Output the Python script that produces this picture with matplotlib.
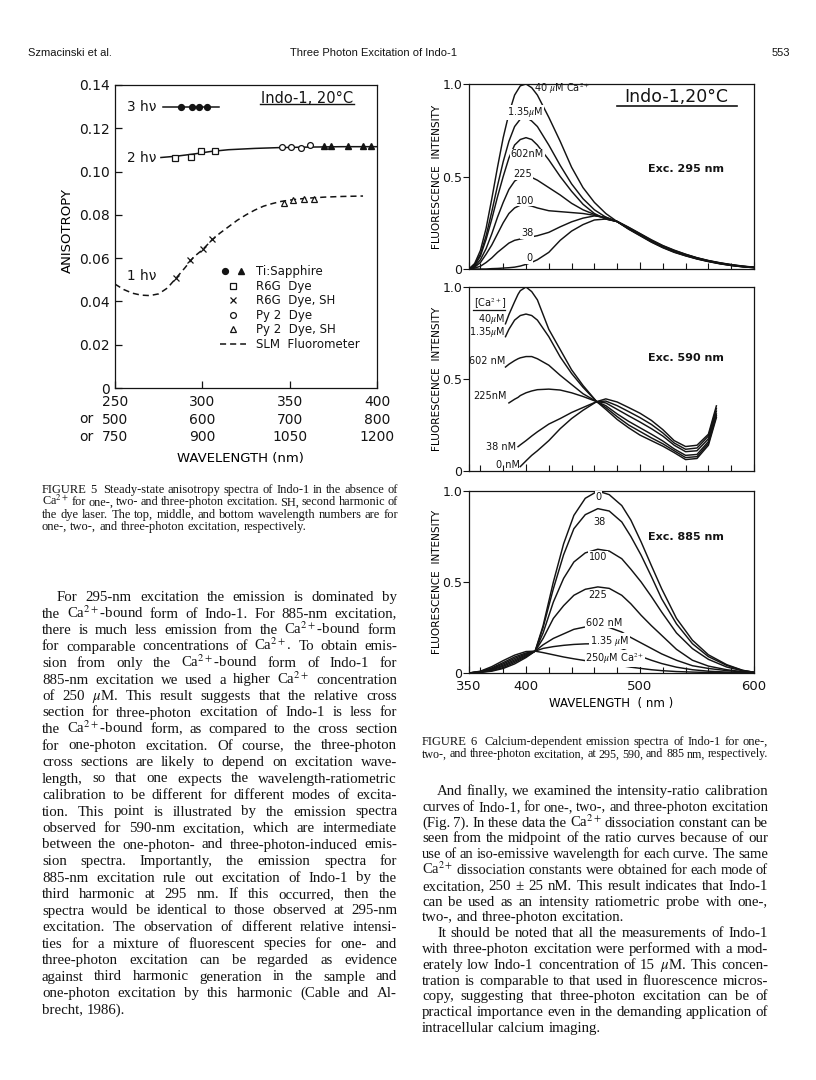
"""Page 553 of Szmacinski et al.: Fig. 5 (anisotropy) and Fig. 6 (emission spectra) with text."""
import matplotlib

matplotlib.use("Agg")
import matplotlib.pyplot as plt
import numpy as np
from matplotlib.legend_handler import HandlerTuple

W, H = 816, 1080
INK = "#141414"
SANS = "DejaVu Sans"
SERIF = "Liberation Serif"

plt.rcParams["font.family"] = [SANS]
plt.rcParams["mathtext.fontset"] = "stix"
plt.rcParams["axes.linewidth"] = 0.9
plt.rcParams["text.color"] = INK
plt.rcParams["axes.edgecolor"] = INK
plt.rcParams["xtick.color"] = INK
plt.rcParams["ytick.color"] = INK

# ---------------- Figure 5 data (x on the one-photon wavelength scale) ----------------
wl_1p_ticks = [250, 300, 350, 400]
wl_2p_ticks = [500, 600, 700, 800]
wl_3p_ticks = [750, 900, 1050, 1200]
aniso_ticks = [0, 0.02, 0.04, 0.06, 0.08, 0.10, 0.12, 0.14]
aniso_labels = ["0", "0.02", "0.04", "0.06", "0.08", "0.10", "0.12", "0.14"]

line3_x = [277.6, 309.6]
line3_y = [0.130, 0.130]
ti_circ_x = [287.7, 293.8, 298.2, 302.4]
ti_circ_y = [0.130, 0.130, 0.130, 0.130]

fit2_x = [276.3, 285, 295, 305, 315, 330, 345, 360, 380, 400]
fit2_y = [0.1065, 0.1071, 0.1081, 0.1093, 0.1101, 0.1107, 0.1111, 0.1113, 0.1115, 0.1115]
r6g_x = [284.1, 293.4, 299.5, 307.5]
r6g_y = [0.1065, 0.1068, 0.1096, 0.1096]
py2_x = [345.8, 350.6, 356.7, 361.8]
py2_y = [0.1112, 0.1112, 0.1110, 0.1122]
ti_tri_x = [369.4, 373.8, 383.3, 391.9, 396.3]
ti_tri_y = [0.1118, 0.1116, 0.1118, 0.1118, 0.1118]

slm_x = [250, 255, 260, 265, 270, 275, 280, 285, 290, 295, 300, 305, 310, 315, 320,
         325, 330, 335, 340, 345, 350, 355, 360, 370, 380, 392]
slm_y = [0.0480, 0.0455, 0.0438, 0.0429, 0.0427, 0.0435, 0.0462, 0.0508, 0.0555, 0.0605,
         0.0638, 0.0680, 0.0715, 0.0745, 0.0775, 0.0800, 0.0822, 0.0840, 0.0852, 0.0862,
         0.0868, 0.0873, 0.0877, 0.0882, 0.0885, 0.0887]
r6g_sh_x = [284.7, 293.2, 300.5, 305.8]
r6g_sh_y = [0.0506, 0.0590, 0.0640, 0.0688]
py2_sh_x = [346.8, 351.9, 358.0, 363.7]
py2_sh_y = [0.0856, 0.0867, 0.0871, 0.0874]

# ---------------- Figure 6 data ----------------
wl_a = [350, 355, 360, 365, 370, 375, 380, 385, 390, 395, 400, 405, 410, 420, 430, 440,
        450, 460, 470, 480, 490, 500, 510, 520, 530, 540, 550, 560, 570, 580, 590, 600]
exc295 = {
    "40uM": [0.0, 0.03, 0.10, 0.22, 0.38, 0.55, 0.71, 0.84, 0.94, 0.99, 1.0, 0.98, 0.94, 0.82,
             0.69, 0.55, 0.44, 0.36, 0.30, 0.256, 0.215, 0.18, 0.145, 0.115, 0.09, 0.071,
             0.054, 0.04, 0.028, 0.019, 0.012, 0.007],
    "1.35uM": [0.0, 0.025, 0.08, 0.18, 0.31, 0.45, 0.58, 0.69, 0.77, 0.81, 0.82, 0.80, 0.77,
               0.67, 0.56, 0.46, 0.38, 0.32, 0.28, 0.256, 0.217, 0.182, 0.147, 0.117, 0.092,
               0.072, 0.055, 0.041, 0.029, 0.019, 0.012, 0.007],
    "602nM": [0.0, 0.02, 0.07, 0.16, 0.27, 0.39, 0.50, 0.60, 0.67, 0.70, 0.71, 0.70, 0.67,
              0.59, 0.50, 0.42, 0.35, 0.30, 0.27, 0.256, 0.218, 0.184, 0.149, 0.119, 0.094,
              0.074, 0.056, 0.042, 0.03, 0.02, 0.013, 0.008],
    "225": [0.0, 0.015, 0.05, 0.11, 0.19, 0.28, 0.36, 0.43, 0.475, 0.495, 0.50, 0.495, 0.48,
            0.44, 0.40, 0.355, 0.32, 0.295, 0.272, 0.256, 0.22, 0.186, 0.151, 0.121, 0.096,
            0.076, 0.058, 0.043, 0.031, 0.021, 0.014, 0.009],
    "100": [0.0, 0.01, 0.035, 0.08, 0.13, 0.19, 0.25, 0.30, 0.33, 0.345, 0.346, 0.34, 0.33,
            0.315, 0.31, 0.305, 0.30, 0.29, 0.275, 0.256, 0.222, 0.188, 0.153, 0.123, 0.098,
            0.077, 0.059, 0.044, 0.032, 0.022, 0.014, 0.009],
    "38": [0.0, 0.005, 0.015, 0.035, 0.06, 0.09, 0.115, 0.14, 0.155, 0.162, 0.168, 0.174,
           0.18, 0.198, 0.228, 0.255, 0.275, 0.287, 0.28, 0.256, 0.224, 0.19, 0.155, 0.125,
           0.10, 0.079, 0.06, 0.045, 0.033, 0.023, 0.015, 0.009],
    "0": [0.0, 0.0, 0.0, 0.0, 0.002, 0.003, 0.005, 0.007, 0.01, 0.016, 0.025, 0.036, 0.05,
          0.09, 0.155, 0.205, 0.24, 0.265, 0.27, 0.258, 0.226, 0.192, 0.158, 0.127, 0.102,
          0.08, 0.061, 0.046, 0.034, 0.024, 0.016, 0.01],
}

nan = np.nan
wl_b = [382, 385, 390, 393, 395, 400, 405, 410, 420, 430, 440, 450, 462,
        470, 480, 490, 500, 510, 520, 530, 540, 550, 560, 567]
exc590 = {
    "40uM": [0.80, 0.85, 0.92, 0.96, 0.98, 1.0, 0.975, 0.93, 0.77, 0.66, 0.55, 0.465, 0.377,
             0.335, 0.28, 0.235, 0.195, 0.165, 0.135, 0.10, 0.062, 0.068, 0.14, 0.29],
    "1.35uM": [0.73, 0.77, 0.82, 0.835, 0.845, 0.853, 0.845, 0.82, 0.73, 0.62, 0.53, 0.455,
               0.377, 0.345, 0.295, 0.25, 0.215, 0.18, 0.148, 0.11, 0.073, 0.078, 0.15, 0.30],
    "602nM": [0.565, 0.58, 0.60, 0.61, 0.615, 0.622, 0.622, 0.61, 0.575, 0.52, 0.47, 0.42,
              0.377, 0.355, 0.31, 0.27, 0.235, 0.20, 0.163, 0.12, 0.085, 0.09, 0.16, 0.31],
    "225nM": [nan, 0.37, 0.39, 0.40, 0.41, 0.425, 0.435, 0.442, 0.445, 0.44, 0.425, 0.405,
              0.377, 0.37, 0.335, 0.30, 0.266, 0.23, 0.19, 0.14, 0.105, 0.11, 0.175, 0.325],
    "38nM": [nan, nan, nan, 0.132, 0.142, 0.165, 0.19, 0.213, 0.255, 0.285, 0.318, 0.345,
             0.377, 0.38, 0.355, 0.323, 0.29, 0.253, 0.207, 0.152, 0.118, 0.125, 0.19, 0.34],
    "0nM": [nan, nan, nan, nan, 0.024, 0.055, 0.085, 0.11, 0.165, 0.23, 0.285, 0.33, 0.377,
            0.392, 0.375, 0.345, 0.314, 0.275, 0.225, 0.165, 0.133, 0.14, 0.20, 0.354],
}

wl_c = [350, 360, 370, 380, 390, 400, 408, 415, 424, 433, 442, 452, 463, 473, 484, 492,
        501, 510, 519, 532, 546, 560, 576, 590, 600]
exc885 = {
    "0": [0.0, 0.003, 0.01, 0.025, 0.05, 0.085, 0.12, 0.26, 0.50, 0.71, 0.866, 0.96, 1.0,
          0.98, 0.92, 0.84, 0.72, 0.59, 0.463, 0.30, 0.18, 0.10, 0.046, 0.015, 0.004],
    "38": [0.0, 0.004, 0.013, 0.03, 0.058, 0.09, 0.12, 0.25, 0.463, 0.65, 0.793, 0.87, 0.903,
           0.89, 0.83, 0.75, 0.647, 0.53, 0.408, 0.27, 0.161, 0.09, 0.042, 0.014, 0.004],
    "100": [0.0, 0.005, 0.017, 0.037, 0.065, 0.095, 0.12, 0.22, 0.39, 0.52, 0.61, 0.66, 0.68,
            0.67, 0.628, 0.57, 0.50, 0.42, 0.335, 0.22, 0.134, 0.075, 0.033, 0.012, 0.004],
    "225": [0.0, 0.006, 0.02, 0.043, 0.072, 0.10, 0.12, 0.19, 0.30, 0.37, 0.427, 0.46, 0.473,
            0.465, 0.427, 0.38, 0.317, 0.26, 0.207, 0.13, 0.07, 0.038, 0.018, 0.007, 0.003],
    "602nM": [0.0, 0.007, 0.024, 0.05, 0.08, 0.105, 0.12, 0.155, 0.19, 0.215, 0.24, 0.253,
              0.258, 0.25, 0.225, 0.195, 0.165, 0.135, 0.105, 0.07, 0.04, 0.025, 0.013,
              0.006, 0.003],
    "1.35uM": [0.0, 0.008, 0.028, 0.057, 0.088, 0.11, 0.12, 0.135, 0.145, 0.152, 0.157,
               0.16, 0.161, 0.152, 0.134, 0.112, 0.09, 0.07, 0.052, 0.032, 0.018, 0.01,
               0.005, 0.003, 0.002],
    "250uM": [0.0, 0.01, 0.035, 0.068, 0.098, 0.118, 0.12, 0.112, 0.10, 0.088, 0.078, 0.068,
              0.06, 0.05, 0.04, 0.032, 0.025, 0.018, 0.013, 0.008, 0.005, 0.003, 0.002,
              0.001, 0.0],
}
spec_xticks = [350, 400, 500, 600]

# ---------------- page text ----------------
header_left = "Szmacinski et al."
header_mid = "Three Photon Excitation of Indo-1"
header_page = "553"

caption5 = [[
    "FIGURE 5  Steady-state anisotropy spectra of Indo-1 in the absence of",
    "Ca$^{2+}$ for one-, two- and three-photon excitation. SH, second harmonic of",
    "the dye laser. The top, middle, and bottom wavelength numbers are for",
    "one-, two-, and three-photon excitation, respectively.",
]]
caption6 = [[
    "FIGURE 6  Calcium-dependent emission spectra of Indo-1 for one-,",
    "two-, and three-photon excitation, at 295, 590, and 885 nm, respectively.",
]]
left_text = [[
    "For 295-nm excitation the emission is dominated by",
    "the Ca$^{2+}$-bound form of Indo-1. For 885-nm excitation,",
    "there is much less emission from the Ca$^{2+}$-bound form",
    "for comparable concentrations of Ca$^{2+}$. To obtain emis-",
    "sion from only the Ca$^{2+}$-bound form of Indo-1 for",
    "885-nm excitation we used a higher Ca$^{2+}$ concentration",
    "of 250 $\\mu$M. This result suggests that the relative cross",
    "section for three-photon excitation of Indo-1 is less for",
    "the Ca$^{2+}$-bound form, as compared to the cross section",
    "for one-photon excitation. Of course, the three-photon",
    "cross sections are likely to depend on excitation wave-",
    "length, so that one expects the wavelength-ratiometric",
    "calibration to be different for different modes of excita-",
    "tion. This point is illustrated by the emission spectra",
    "observed for 590-nm excitation, which are intermediate",
    "between the one-photon- and three-photon-induced emis-",
    "sion spectra. Importantly, the emission spectra for",
    "885-nm excitation rule out excitation of Indo-1 by the",
    "third harmonic at 295 nm. If this occurred, then the",
    "spectra would be identical to those observed at 295-nm",
    "excitation. The observation of different relative intensi-",
    "ties for a mixture of fluorescent species for one- and",
    "three-photon excitation can be regarded as evidence",
    "against third harmonic generation in the sample and",
    "one-photon excitation by this harmonic (Cable and Al-",
    "brecht, 1986).",
]]
right_text = [[
    "And finally, we examined the intensity-ratio calibration",
    "curves of Indo-1, for one-, two-, and three-photon excitation",
    "(Fig. 7). In these data the Ca$^{2+}$ dissociation constant can be",
    "seen from the midpoint of the ratio curves because of our",
    "use of an iso-emissive wavelength for each curve. The same",
    "Ca$^{2+}$ dissociation constants were obtained for each mode of",
    "excitation, 250 \u00b1 25 nM. This result indicates that Indo-1",
    "can be used as an intensity ratiometric probe with one-,",
    "two-, and three-photon excitation.",
], [
    "It should be noted that all the measurements of Indo-1",
    "with three-photon excitation were performed with a mod-",
    "erately low Indo-1 concentration of 15 $\\mu$M. This concen-",
    "tration is comparable to that used in fluorescence micros-",
    "copy, suggesting that three-photon excitation can be of",
    "practical importance even in the demanding application of",
    "intracellular calcium imaging.",
]]

fig = plt.figure(figsize=(W / 100, H / 100), dpi=100)
fig.patch.set_facecolor("white")
renderer = fig.canvas.get_renderer()


def px_axes(left, top, right, bottom):
    return fig.add_axes([left / W, 1 - bottom / H, (right - left) / W, (bottom - top) / H])


def set_column(paragraphs, x0, x1, y0, dy, size, indent):
    """Justified text block; y are baselines in pixels from the top.
    A line that would not fit at `size` is set a little smaller."""
    y = y0
    for para in paragraphs:
        for i, line in enumerate(para):
            words = line.split(" ")
            start = x0 + (indent if i == 0 else 0)
            room = x1 - start
            s = size
            for _ in range(3):
                texts = [fig.text(0, 1 - y / H, w, fontsize=s, family=SERIF, va="baseline",
                                  ha="left", color=INK) for w in words]
                widths = [t.get_window_extent(renderer).width if w else 0.0
                          for t, w in zip(texts, words)]
                min_gap = s * 100 / 72 * 0.2
                natural = sum(widths) + (len(words) - 1) * min_gap
                if natural <= room:
                    break
                for t in texts:
                    t.remove()
                s = s * room / natural * 0.997
            normal = s * 100 / 72 * 0.25
            last = i == len(para) - 1
            if len(words) == 1 or (last and sum(widths) + (len(words) - 1) * normal < 0.93 * room):
                gap = normal
            else:
                gap = (room - sum(widths)) / (len(words) - 1)
            x = start
            for t, w in zip(texts, widths):
                t.set_x(x / W)
                x += w + gap
            y += dy


# ---------------- header ----------------
fig.text(28 / W, 1 - 56 / H, header_left, fontsize=8, family="Liberation Sans", va="baseline")
fig.text(374 / W, 1 - 56 / H, header_mid, fontsize=8, family="Liberation Sans", va="baseline", ha="center")
fig.text(790 / W, 1 - 56 / H, header_page, fontsize=8, family="Liberation Sans", va="baseline", ha="right")

# ---------------- Figure 5 ----------------
ax = px_axes(115, 85, 377, 388)
ax.plot(line3_x, line3_y, color=INK, lw=1.1)
h_ti_c, = ax.plot(ti_circ_x, ti_circ_y, "o", ms=4.2, color=INK)
ax.plot(fit2_x, fit2_y, color=INK, lw=1.1)
h_r6g, = ax.plot(r6g_x, r6g_y, "s", ms=4.2, mfc="white", mec=INK, mew=0.9)
h_py2, = ax.plot(py2_x, py2_y, "o", ms=4.2, mfc="white", mec=INK, mew=0.9)
h_ti_t, = ax.plot(ti_tri_x, ti_tri_y, "^", ms=4.6, color=INK)
h_slm, = ax.plot(slm_x, slm_y, color=INK, lw=1.1, dashes=(4, 2.6))
h_sh, = ax.plot(r6g_sh_x, r6g_sh_y, "x", ms=3.8, mew=0.9, color=INK)
h_pysh, = ax.plot(py2_sh_x, py2_sh_y, "^", ms=4.6, mfc="white", mec=INK, mew=0.9)

ax.set_xlim(250, 400)
ax.set_ylim(0, 0.14)
ax.set_yticks(aniso_ticks)
ax.set_yticklabels(aniso_labels)
ax.set_xticks(wl_1p_ticks)
ax.set_xticklabels([f"{a}\n{b}\n{c}" for a, b, c in zip(wl_1p_ticks, wl_2p_ticks, wl_3p_ticks)],
                   linespacing=1.33)
ax.tick_params(axis="both", direction="in", length=5, width=0.9, labelsize=10)
ax.tick_params(axis="y", pad=4)
ax.tick_params(axis="x", pad=5)
ax.set_ylabel("ANISOTROPY", fontsize=9.5)
ax.yaxis.set_label_coords(-0.158, 0.52)
ax.set_xlabel("WAVELENGTH (nm)", fontsize=9.5)
ax.xaxis.set_label_coords(0.48, -0.212)
for yy in (419, 437):
    fig.text(86 / W, 1 - yy / H, "or", fontsize=10, va="center", ha="center")

for lab, yv in (("3 h\u03bd", 0.130), ("2 h\u03bd", 0.1065), ("1 h\u03bd", 0.0516)):
    ax.text(273.5, yv, lab, fontsize=9.8, ha="right", va="center")

ax.text(359.7, 0.1338, "Indo-1, 20\u00b0C", fontsize=10.5, ha="center", va="center")
ax.plot([0.555, 0.913], [0.937, 0.937], transform=ax.transAxes, color=INK, lw=1.0)

leg = ax.legend(
    [(h_ti_c, h_ti_t), h_r6g, h_sh, h_py2, h_pysh, h_slm],
    ["Ti:Sapphire", "R6G  Dye", "R6G  Dye, SH", "Py 2  Dye", "Py 2  Dye, SH", "SLM  Fluorometer"],
    handler_map={tuple: HandlerTuple(ndivide=None, pad=0.6)},
    loc="upper left", bbox_to_anchor=(0.40, 0.405), frameon=False, fontsize=8.5,
    handlelength=2.2, handletextpad=0.9, labelspacing=0.13, borderpad=0, borderaxespad=0,
)

# ---------------- Figure 6 ----------------
panels = [
    (84, 269, wl_a, exc295, "Exc. 295 nm", 0.54),
    (287, 471, wl_b, exc590, "Exc. 590 nm", 0.613),
    (491, 673, wl_c, exc885, "Exc. 885 nm", 0.747),
]
spec_axes = []
for top, bottom, wl, curves, exc, exc_y in panels:
    a = px_axes(469, top, 754, bottom)
    for name, vals in curves.items():
        a.plot(wl, vals, color=INK, lw=1.05)
    a.set_xlim(350, 600)
    a.set_ylim(0, 1.0)
    a.set_xticks(spec_xticks)
    a.set_xticks(np.arange(360, 600, 20), minor=True)
    a.set_yticks([0, 0.5, 1.0])
    a.set_yticklabels(["0", "0.5", "1.0"])
    a.tick_params(axis="x", which="major", direction="in", length=5, width=0.8, labelsize=9.5, pad=5)
    a.tick_params(axis="x", which="minor", direction="in", length=4, width=0.8)
    a.tick_params(axis="y", direction="out", length=4, width=0.8, labelsize=9, pad=1)
    a.set_ylabel("FLUORESCENCE  INTENSITY", fontsize=7.6)
    a.yaxis.set_label_coords(-0.094, 0.5)
    a.text(540, exc_y, exc, fontsize=8, fontweight="bold", ha="center", va="center")
    spec_axes.append(a)

ax1, ax2, ax3 = spec_axes
ax1.tick_params(axis="x", labelbottom=False)
ax2.tick_params(axis="x", labelbottom=False)
ax3.set_xticklabels([str(v) for v in spec_xticks])
ax3.set_xlabel("WAVELENGTH  ( nm )", fontsize=8.5, labelpad=3)

lab_kw = dict(fontsize=7, ha="center", va="center",
              bbox=dict(boxstyle="square,pad=0.08", fc="white", ec="none"))
ax1.text(407, 0.977, "40 $\\mu$M Ca$^{2+}$", fontsize=7, ha="left", va="center")
ax1.text(399.4, 0.847, "1.35$\\mu$M", **lab_kw)
ax1.text(401, 0.62, "602nM", **lab_kw)
ax1.text(397, 0.513, "225", **lab_kw)
ax1.text(399, 0.37, "100", **lab_kw)
ax1.text(401, 0.193, "38", **lab_kw)
ax1.text(402.6, 0.058, "0", **lab_kw)
ax1.text(532, 0.93, "Indo-1,20\u00b0C", fontsize=12.5, ha="center", va="center")
ax1.plot([0.52, 0.94], [0.88, 0.88], transform=ax1.transAxes, color=INK, lw=1.2)

r_kw = dict(fontsize=7, ha="right", va="center")
ax2.text(368.5, 0.909, "[Ca$^{2+}$]", fontsize=7, ha="center", va="center")
ax2.plot([0.015, 0.125], [0.875, 0.875], transform=ax2.transAxes, color=INK, lw=0.9)
ax2.text(381.5, 0.826, "40$\\mu$M", **r_kw)
ax2.text(381.5, 0.753, "1.35$\\mu$M", **r_kw)
ax2.text(381.5, 0.60, "602 nM", **r_kw)
ax2.text(383, 0.405, "225nM", **r_kw)
ax2.text(391.5, 0.132, "38 nM", **r_kw)
ax2.text(394.5, 0.035, "0 nM", **r_kw)

ax3.text(463.6, 0.967, "0", **lab_kw)
ax3.text(464, 0.83, "38", **lab_kw)
ax3.text(463, 0.637, "100", **lab_kw)
ax3.text(463, 0.426, "225", **lab_kw)
ax3.text(468.7, 0.277, "602 nM", **lab_kw)
ax3.text(473, 0.176, "1.35 $\\mu$M", **lab_kw)
ax3.text(478, 0.079, "250$\\mu$M Ca$^{2+}$", **lab_kw)

# ---------------- captions and body text ----------------
set_column(caption5, 42, 398, 493, 12.4, 9.0, 0)
set_column(caption6, 422, 768, 745, 12.4, 9.0, 0)
set_column(left_text, 42, 397, 601, 16.5, 10.7, 15)
set_column(right_text, 422, 768, 795, 15.8, 10.7, 15)

fig.savefig("out.png", dpi=100, facecolor="white")
